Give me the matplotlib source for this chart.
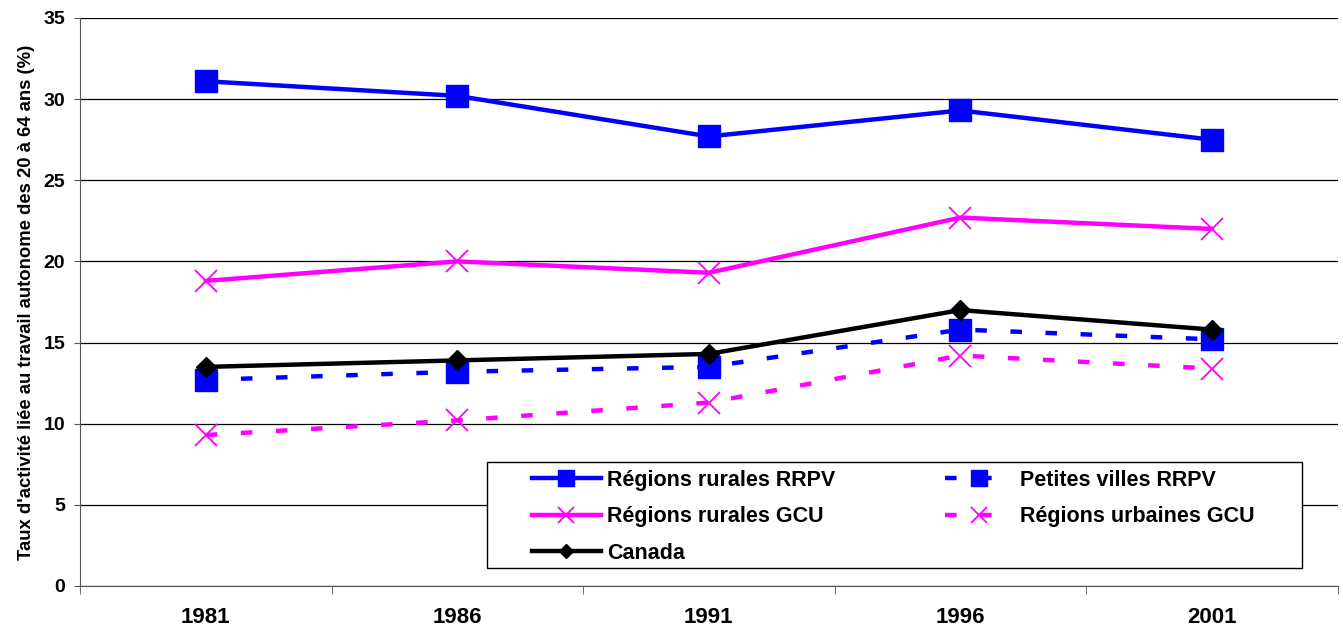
import numpy as np
import matplotlib
matplotlib.use("Agg")
import matplotlib.pyplot as plt
from matplotlib.patches import Rectangle

plt.rcParams['font.family'] = ['Liberation Sans', 'DejaVu Sans']
plt.rcParams['font.weight'] = 'bold'

annees = ['1981', '1986', '1991', '1996', '2001']
rurales_rrpv = [31.1, 30.2, 27.7, 29.3, 27.5]
petites_villes_rrpv = [12.7, 13.2, 13.5, 15.8, 15.2]
rurales_gcu = [18.8, 20.0, 19.3, 22.7, 22.0]
urbaines_gcu = [9.3, 10.2, 11.3, 14.2, 13.4]
canada = [13.5, 13.9, 14.3, 17.0, 15.8]

x = np.arange(len(annees))
bleu = '#0000FF'
rose = '#FF00FF'
tirets = (2.6, 5.3)

fig = plt.figure(figsize=(13.43, 6.28), dpi=100)
ax = fig.add_axes([0.0596, 0.0669, 0.9364, 0.9045])

l1, = ax.plot(x, rurales_rrpv, color=bleu, lw=3.2, marker='s', ms=15.5,
              label='Régions rurales RRPV', zorder=5)
l2, = ax.plot(x, petites_villes_rrpv, color=bleu, lw=3.2, marker='s', ms=15.5,
              dashes=tirets, label='Petites villes RRPV', zorder=5)
l3, = ax.plot(x, rurales_gcu, color=rose, lw=3.2, marker='x', ms=16, mew=1.3,
              label='Régions rurales GCU', zorder=4)
l4, = ax.plot(x, urbaines_gcu, color=rose, lw=3.2, marker='x', ms=16, mew=1.3,
              dashes=tirets, label='Régions urbaines GCU', zorder=4)
l5, = ax.plot(x, canada, color='black', lw=3.2, marker='D', ms=10,
              label='Canada', zorder=6)

ax.set_xlim(-0.5, len(annees) - 0.5)
ax.set_ylim(0, 35)
ax.set_yticks(np.arange(0, 36, 5))
ax.set_xticks(x)
ax.set_xticklabels(annees)
ax.set_xticks(np.arange(-0.5, len(annees), 1), minor=True)
ax.tick_params(axis='x', which='major', length=0, pad=15, labelsize=16)
ax.tick_params(axis='x', which='minor', length=6, direction='out', color='#555555')
ax.tick_params(axis='y', length=4.3, pad=6.5, direction='out', labelsize=14,
               color='#555555')
for lbl in ax.get_xticklabels() + ax.get_yticklabels():
    lbl.set_fontweight('bold')

ax.grid(axis='y', color='black', lw=0.9)
ax.set_axisbelow(True)
for s in ['top', 'right']:
    ax.spines[s].set_visible(False)
ax.spines['left'].set_color('#555555')
ax.spines['bottom'].set_color('#555555')

ax.set_ylabel("Taux d'activité liée au travail autonome des 20 à 64 ans (%)",
              fontsize=13.3, fontweight='bold', labelpad=6)

# cadre de la légende
cadre = Rectangle((0.3235, 0.0317), 0.648, 0.1866, transform=ax.transAxes,
                  facecolor='white', edgecolor='black', lw=1.0, zorder=9)
ax.add_patch(cadre)

# ncol=2 remplit par colonne
poignees = [l1, l3, l5, l2, l4]
leg = ax.legend(poignees, [p.get_label() for p in poignees],
                loc='center left', ncol=2, bbox_to_anchor=(0.3593, 0.1215),
                frameon=False, prop={'weight': 'bold', 'size': 15.5},
                handlelength=3.2, handletextpad=0.28, labelspacing=0.72,
                columnspacing=5.1, borderpad=0, borderaxespad=0)
leg.set_zorder(10)
for i, h in enumerate(leg.legend_handles):
    if i < 3:
        h.set_markersize(7 if h.get_marker() == 'D' else 11)
    else:
        h.set_markersize(12)

fig.savefig('out.png', dpi=100)
